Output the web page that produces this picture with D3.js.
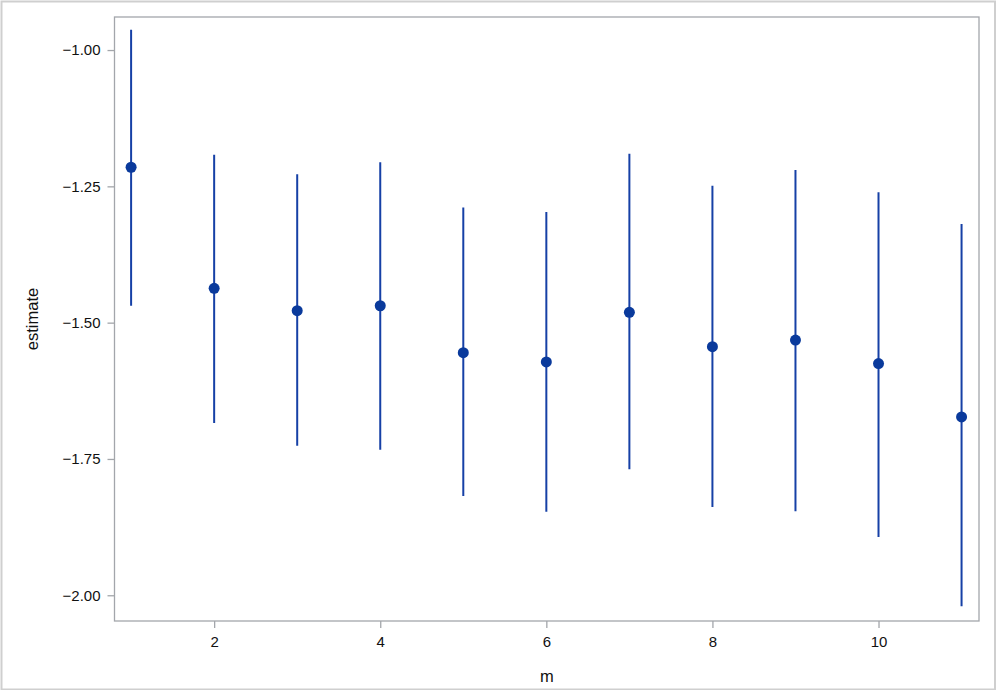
<!DOCTYPE html>
<html lang="en">
<head>
<meta charset="utf-8">
<title>estimate by m</title>
<script src="https://d3js.org/d3.v7.min.js"></script>
<style>
  body { margin: 0; background: #fff; }
  text { font-family: "Liberation Sans", Arial, sans-serif; fill: #111; }
</style>
</head>
<body>
<script>

// data
var mVals    = [1, 2, 3, 4, 5, 6, 7, 8, 9, 10, 11];
var estimate = [-1.215, -1.437, -1.478, -1.469, -1.555, -1.572, -1.481, -1.544, -1.532, -1.575, -1.673];
var upper    = [-0.963, -1.192, -1.228, -1.206, -1.289, -1.297, -1.190, -1.249, -1.220, -1.261, -1.319];
var lower    = [-1.469, -1.684, -1.726, -1.733, -1.818, -1.847, -1.769, -1.838, -1.846, -1.893, -2.020];
var xTicks   = [2, 4, 6, 8, 10];
var yTicks   = [-1.00, -1.25, -1.50, -1.75, -2.00];

var W = 997, H = 690;
var margin = {top: 17, right: 18, bottom: 69, left: 114.5};

var svg = d3.select("body").append("svg")
    .attr("width", W)
    .attr("height", H);

// outer frame
svg.append("rect")
    .attr("x", 1.5).attr("y", 1.5)
    .attr("width", W - 3.5).attr("height", H - 2)
    .attr("fill", "none")
    .attr("stroke", "#cfcfcf")
    .attr("stroke-width", 2);

var x = d3.scaleLinear()
    .domain([0.8, 11.21])
    .range([margin.left, W - margin.right]);

var y = d3.scaleLinear()
    .domain([-0.9394, -2.0472])
    .range([margin.top, H - margin.bottom]);

// plot area border
svg.append("rect")
    .attr("x", x.range()[0]).attr("y", y.range()[0])
    .attr("width", x.range()[1] - x.range()[0])
    .attr("height", y.range()[1] - y.range()[0])
    .attr("fill", "none")
    .attr("stroke", "#a3a6ab")
    .attr("stroke-width", 1.3);

var fmt = d3.format(".2f");

var yAxis = svg.append("g")
    .attr("transform", "translate(" + x.range()[0] + ",0)")
    .call(d3.axisLeft(y).tickValues(yTicks).tickSize(7).tickPadding(7)
        .tickFormat(function(d) { return fmt(d).replace("-", "\u2212"); }));

var xAxis = svg.append("g")
    .attr("transform", "translate(0," + y.range()[1] + ")")
    .call(d3.axisBottom(x).tickValues(xTicks).tickSize(7).tickPadding(8));

[xAxis, yAxis].forEach(function(a) {
  a.select(".domain").remove();
  a.selectAll(".tick line").attr("stroke", "#a3a6ab").attr("stroke-width", 1.3);
  a.selectAll(".tick text").style("font-size", "15px").attr("fill", "#111");
});

// axis titles
svg.append("text")
    .attr("transform", "translate(38," + ((y.range()[0] + y.range()[1]) / 2) + ") rotate(-90)")
    .attr("text-anchor", "middle")
    .style("font-size", "16.5px")
    .text("estimate");

svg.append("text")
    .attr("x", (x.range()[0] + x.range()[1]) / 2)
    .attr("y", 682)
    .attr("text-anchor", "middle")
    .style("font-size", "16.5px")
    .text("m");

var blue = "#0a3a9c";

// interval lines
svg.append("g").selectAll("line")
    .data(mVals)
    .enter().append("line")
    .attr("x1", function(d) { return x(d); })
    .attr("x2", function(d) { return x(d); })
    .attr("y1", function(d, i) { return y(upper[i]); })
    .attr("y2", function(d, i) { return y(lower[i]); })
    .attr("stroke", "#1640a6")
    .attr("stroke-width", 2);

// point estimates
svg.append("g").selectAll("circle")
    .data(mVals)
    .enter().append("circle")
    .attr("cx", function(d) { return x(d); })
    .attr("cy", function(d, i) { return y(estimate[i]); })
    .attr("r", 5.5)
    .attr("fill", blue);

</script>
</body>
</html>
